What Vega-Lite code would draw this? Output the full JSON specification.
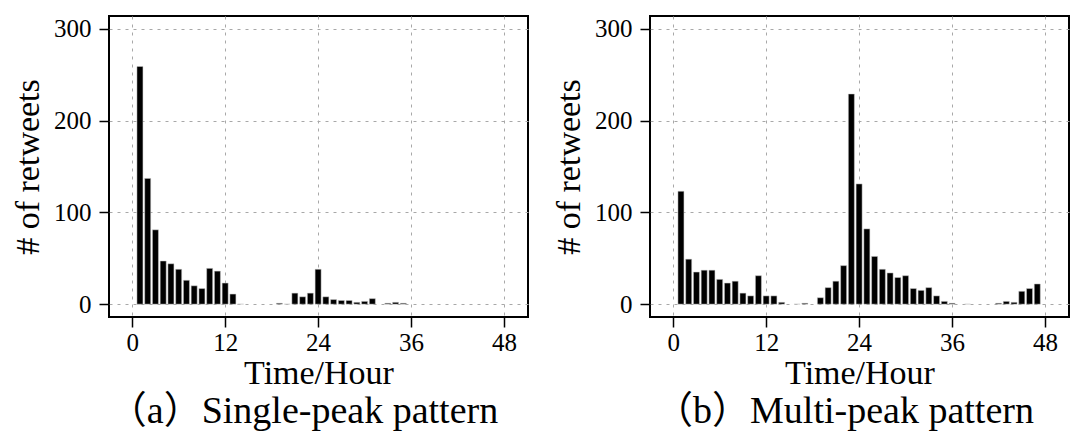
{
  "$schema": "https://vega.github.io/schema/vega-lite/v6.json",
  "padding": {"left": 10, "top": 15, "right": 5, "bottom": 0},
  "background": "white",
  "datasets": {
    "a": [
      {"hour": 1, "retweets": 259}, {"hour": 2, "retweets": 137}, {"hour": 3, "retweets": 81},
      {"hour": 4, "retweets": 47}, {"hour": 5, "retweets": 44}, {"hour": 6, "retweets": 38},
      {"hour": 7, "retweets": 26}, {"hour": 8, "retweets": 20}, {"hour": 9, "retweets": 17},
      {"hour": 10, "retweets": 39}, {"hour": 11, "retweets": 36}, {"hour": 12, "retweets": 23},
      {"hour": 13, "retweets": 11}, {"hour": 14, "retweets": 0}, {"hour": 19, "retweets": 1},
      {"hour": 20, "retweets": 0}, {"hour": 21, "retweets": 12}, {"hour": 22, "retweets": 8},
      {"hour": 23, "retweets": 12}, {"hour": 24, "retweets": 38}, {"hour": 25, "retweets": 8},
      {"hour": 26, "retweets": 5}, {"hour": 27, "retweets": 4}, {"hour": 28, "retweets": 4},
      {"hour": 29, "retweets": 2}, {"hour": 30, "retweets": 3}, {"hour": 31, "retweets": 6},
      {"hour": 33, "retweets": 1}, {"hour": 34, "retweets": 2}, {"hour": 35, "retweets": 1}
    ],
    "b": [
      {"hour": 1, "retweets": 123}, {"hour": 2, "retweets": 49}, {"hour": 3, "retweets": 35},
      {"hour": 4, "retweets": 37}, {"hour": 5, "retweets": 37}, {"hour": 6, "retweets": 27},
      {"hour": 7, "retweets": 23}, {"hour": 8, "retweets": 25}, {"hour": 9, "retweets": 12},
      {"hour": 10, "retweets": 9}, {"hour": 11, "retweets": 31}, {"hour": 12, "retweets": 9},
      {"hour": 13, "retweets": 9}, {"hour": 14, "retweets": 2}, {"hour": 16, "retweets": 0},
      {"hour": 17, "retweets": 1}, {"hour": 19, "retweets": 7}, {"hour": 20, "retweets": 18},
      {"hour": 21, "retweets": 25}, {"hour": 22, "retweets": 42}, {"hour": 23, "retweets": 229},
      {"hour": 24, "retweets": 131}, {"hour": 25, "retweets": 82}, {"hour": 26, "retweets": 52},
      {"hour": 27, "retweets": 38}, {"hour": 28, "retweets": 34}, {"hour": 29, "retweets": 29},
      {"hour": 30, "retweets": 31}, {"hour": 31, "retweets": 17}, {"hour": 32, "retweets": 15},
      {"hour": 33, "retweets": 18}, {"hour": 34, "retweets": 9}, {"hour": 35, "retweets": 3},
      {"hour": 36, "retweets": 1}, {"hour": 38, "retweets": 0}, {"hour": 42, "retweets": 1},
      {"hour": 43, "retweets": 3}, {"hour": 44, "retweets": 2}, {"hour": 45, "retweets": 14},
      {"hour": 46, "retweets": 17}, {"hour": 47, "retweets": 22}
    ]
  },
  "spacing": 22,
  "hconcat": [
    {
      "width": 419,
      "height": 301,
      "data": {"name": "a"},
      "title": {"text": "（a）Single-peak pattern", "orient": "bottom", "dx": -15, "offset": 3},
      "mark": {"type": "bar", "width": 6, "color": "black", "stroke": "#c8c8c8", "strokeWidth": 0.5},
      "encoding": {
        "x": {"field": "hour", "type": "quantitative", "title": "Time/Hour",
              "scale": {"domain": [-2.35, 50.45], "nice": false, "zero": false},
              "axis": {"values": [0, 12, 24, 36, 48]}},
        "y": {"field": "retweets", "type": "quantitative", "title": "# of retweets",
              "scale": {"domain": [-14, 314], "nice": false, "zero": false},
              "axis": {"values": [0, 100, 200, 300], "labelPadding": 8, "titlePadding": 8}}
      }
    },
    {
      "width": 419,
      "height": 301,
      "data": {"name": "b"},
      "title": {"text": "（b）Multi-peak pattern", "orient": "bottom", "dx": -15, "offset": 3},
      "mark": {"type": "bar", "width": 6, "color": "black", "stroke": "#c8c8c8", "strokeWidth": 0.5},
      "encoding": {
        "x": {"field": "hour", "type": "quantitative", "title": "Time/Hour",
              "scale": {"domain": [-2.35, 50.45], "nice": false, "zero": false},
              "axis": {"values": [0, 12, 24, 36, 48]}},
        "y": {"field": "retweets", "type": "quantitative", "title": "# of retweets",
              "scale": {"domain": [-14, 314], "nice": false, "zero": false},
              "axis": {"values": [0, 100, 200, 300], "labelPadding": 8, "titlePadding": 8}}
      }
    }
  ],
  "config": {
    "font": "Liberation Serif, Noto Sans CJK SC",
    "view": {"stroke": "black", "strokeWidth": 2},
    "title": {"font": "Liberation Serif, Noto Sans CJK SC", "fontSize": 38, "fontWeight": "normal", "color": "black"},
    "axis": {
      "domain": false,
      "grid": true,
      "gridColor": "#a8a8a8",
      "gridDash": [3, 5],
      "gridWidth": 1,
      "ticks": true,
      "tickColor": "black",
      "tickSize": 10,
      "tickWidth": 1.5,
      "labelFont": "Liberation Serif",
      "labelFontSize": 25,
      "labelColor": "black",
      "labelPadding": 3,
      "titleFont": "Liberation Serif",
      "titleFontSize": 34,
      "titleFontWeight": "normal",
      "titleColor": "black",
      "titlePadding": 1
    }
  }
}
